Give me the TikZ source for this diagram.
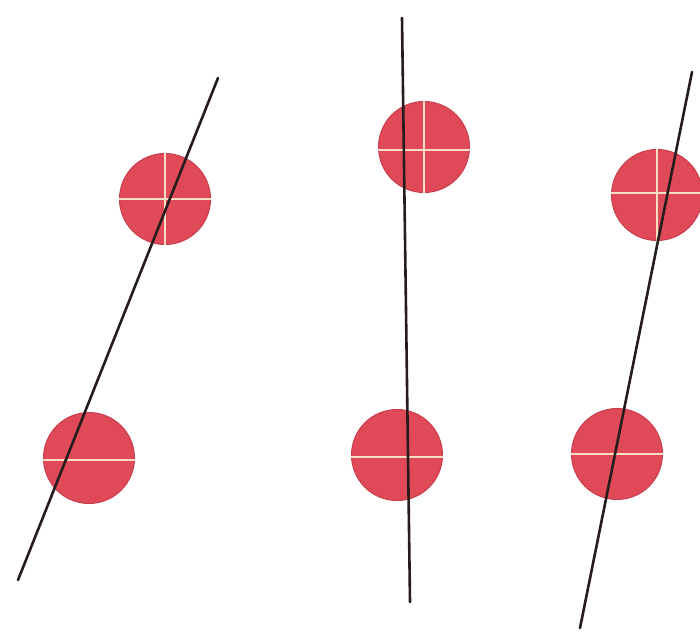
\documentclass[tikz,border=0pt]{standalone}
\begin{document}
\begin{tikzpicture}[x=1pt,y=-1pt,
  dot/.style={circle,minimum size=91pt,inner sep=0pt,fill=dotred,draw=dotrim,line width=1pt},
  crossline/.style={draw=crosscol,line width=2.6pt},
  rod/.style={draw=rodcol,line width=2.6pt,line cap=round}]
\definecolor{dotred}{RGB}{224,74,88}
\definecolor{dotrim}{RGB}{200,60,75}
\definecolor{crosscol}{RGB}{250,222,196}
\definecolor{rodcol}{RGB}{38,28,30}
\useasboundingbox (0,0) rectangle (700,631);
\fill[white] (0,0) rectangle (700,631);
% left panel
\node[dot] (c1) at (165,199) {};
\node[dot] (c2) at (89,458) {};
\draw[crossline] (c1.west) -- (c1.east);
\draw[crossline] (c1.north) -- (c1.south);
\draw[crossline] ([yshift=-2pt]c2.west) -- ([yshift=-2pt]c2.east);
% middle panel
\node[dot] (c3) at (424,147) {};
\node[dot] (c4) at (397,455) {};
\draw[crossline] ([yshift=-3pt]c3.west) -- ([yshift=-3pt]c3.east);
\draw[crossline] (c3.north) -- (c3.south);
\draw[crossline] ([yshift=-2pt]c4.west) -- ([yshift=-2pt]c4.east);
% right panel
\node[dot] (c5) at (657,195) {};
\node[dot] (c6) at (617,454) {};
\draw[crossline] ([yshift=2pt]c5.west) -- ([yshift=2pt]c5.east);
\draw[crossline] (c5.north) -- (c5.south);
\draw[crossline] (c6.west) -- (c6.east);
% rods
\coordinate (l1) at (218,78);
\coordinate (l2) at (18,580);
\coordinate (m1) at (402,18);
\coordinate (m2) at (410,602);
\coordinate (r1) at (692,72);
\coordinate (r2) at (580,628);
\draw[rod] (l1) -- (l2);
\draw[rod] (m1) -- (m2);
\draw[rod] (r1) -- (r2);
\end{tikzpicture}
\end{document}
